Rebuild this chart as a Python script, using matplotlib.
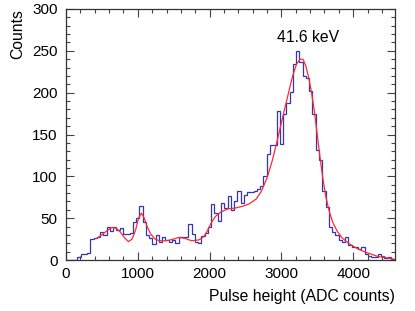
import numpy as np
import matplotlib
matplotlib.use("Agg")
import matplotlib.pyplot as plt
from matplotlib.ticker import MultipleLocator

# ---- data ----
bin_start = 20.0
bin_width = 45.5
counts = [
    0, 0, 0, 3, 7, 7, 8, 25, 26, 27,
    34, 30, 39, 35, 40, 36, 38, 31, 31, 32,
    45, 50, 64, 46, 30, 26, 19, 30, 22, 27,
    24, 22, 24, 20, 27, 27, 27, 43, 31, 22,
    20, 29, 32, 40, 67, 56, 47, 68, 62, 76,
    60, 70, 82, 68, 78, 81, 81, 83, 85, 88,
    100, 127, 137, 137, 178, 139, 175, 188, 201, 234,
    250, 237, 220, 218, 202, 175, 131, 119, 83, 63,
    40, 33, 30, 24, 22, 28, 18, 16, 15, 13,
    16, 7, 5, 4, 4, 7, 5, 2, 3, 1,
]

fit_x = [430, 500, 570, 640, 700, 760, 820, 870, 920, 970,
         1010, 1050, 1090, 1130, 1180, 1240, 1300, 1400, 1500, 1570,
         1650, 1750, 1850, 1920, 1970, 2020, 2080, 2150, 2250, 2350,
         2450, 2550, 2650, 2720, 2800, 2870, 2940, 3010, 3080, 3150,
         3210, 3260, 3300, 3340, 3380, 3420, 3460, 3500, 3540, 3580,
         3620, 3670, 3720, 3780, 3850, 3950, 4050, 4150, 4250, 4350,
         4450, 4560]
fit_y = [26, 30, 35, 39, 38, 33, 26, 22, 25, 36,
         50, 56, 50, 40, 31, 25, 23, 23, 25, 27,
         26, 23, 24, 28, 35, 44, 52, 57, 61, 62,
         64, 67, 73, 82, 98, 118, 142, 168, 193, 218,
         234, 240, 240, 232, 218, 200, 177, 149, 121, 96,
         75, 57, 44, 34, 26, 19, 14, 10, 7, 4,
         3, 1]

peak_label = "41.6 keV"
peak_label_pos = (3366, 266)

x_ticks = [0, 1000, 2000, 3000, 4000]
y_ticks = [0, 50, 100, 150, 200, 250, 300]

# ---- figure ----
plt.rcParams['font.family'] = ['Liberation Sans', 'DejaVu Sans']
fig = plt.figure(figsize=(4.15, 3.11), dpi=100)
ax = fig.add_axes([66/415, 1-260/311, (394.5-66)/415, (260-9)/311])

edges = bin_start + bin_width*np.arange(len(counts)+1)
ax.stairs(counts, edges, color='#3434b4', linewidth=0.9)
ax.plot(fit_x, fit_y, color='#ff2a2a', linewidth=0.9)

ax.text(peak_label_pos[0], peak_label_pos[1], peak_label, ha='center', va='center',
        fontsize=11.3, color='black')

ax.set_xlim(0, 4575)
ax.set_ylim(0, 300)
ax.set_xticks(x_ticks)
ax.set_yticks(y_ticks)
ax.xaxis.set_minor_locator(MultipleLocator(200))
ax.yaxis.set_minor_locator(MultipleLocator(10))
ax.tick_params(which='both', direction='in', top=True, right=True, labelsize=11,
               color='#444444', width=0.8)
ax.tick_params(which='major', length=6)
ax.tick_params(which='minor', length=3)
ax.tick_params(axis='x', pad=5)
ax.tick_params(axis='y', pad=6)
for s in ax.spines.values():
    s.set_color('#333333')
    s.set_linewidth(0.9)

ax.set_xlabel('Pulse height (ADC counts)', loc='right', fontsize=11.3)
ax.set_ylabel('Counts', loc='top', fontsize=11.3)
ax.yaxis.set_label_coords(-0.125, 1.0)
ax.xaxis.set_label_coords(1.0, -0.115)

fig.savefig('out.png', dpi=100)
